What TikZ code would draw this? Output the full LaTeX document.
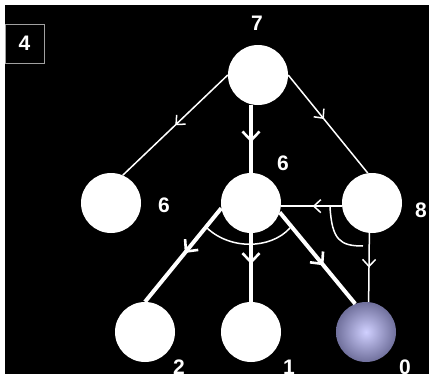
\documentclass[tikz,border=0pt]{standalone}
\usepackage{fontspec}
\setmainfont{Liberation Sans}
\usetikzlibrary{arrows.meta, decorations.markings}
\tikzstyle{ball} = [circle, fill=white, minimum size=60pt, inner sep=0pt]
\tikzstyle{solved} = [circle, minimum size=60pt, inner sep=0pt, inner color={rgb,255:red,208;green,208;blue,255}, outer color={rgb,255:red,112;green,112;blue,156}]
\tikzstyle{num} = [text=white, font=\fontsize{21}{24}\selectfont\bfseries, inner sep=0pt]
\tikzstyle{stagebox} = [draw={rgb,255:red,160;green,160;blue,160}, line width=1pt, minimum width=39pt, minimum height=39pt, inner sep=0pt]
\tikzstyle{thinarc} = [draw=white, line width=1.5pt, postaction={decorate}, decoration={markings, mark=at position #1 with {\arrow{Straight Barb[length=7pt, width=13pt]}}}]
\tikzstyle{thickarc} = [draw=white, line width=4pt, postaction={decorate}, decoration={markings, mark=at position #1 with {\arrow{Straight Barb[length=9pt, width=17pt, line width=2.6pt]}}}]

\begin{document}
\begin{tikzpicture}[x=1pt, y=-1pt, node distance=128pt]
	% frame
	\fill[white] (0,0) rectangle (429,383);
	\fill[black] (5,5) rectangle (429,374);
	\useasboundingbox (0,0) rectangle (429,383);

	\node (stage) [stagebox, num] at (24.5,43.5) {4};

	\node (top) [ball] at (258,75) {};
	\node (mid) [ball, below of=top, xshift=-7pt] {};
	\node (left) [ball, left of=mid, xshift=-12pt] {};
	\node (right) [ball, right of=mid, xshift=-7pt] {};
	\node (leaf2) [ball, below of=mid, xshift=-106pt, yshift=-1pt] {};
	\node (leaf1) [ball, below of=mid, yshift=-1pt] {};
	\node (leaf0) [solved, below of=mid, xshift=115pt, yshift=-1pt] {};

	\draw [thinarc=0.5] (top.180) -- (left.67);
	\draw [thinarc=0.45] (top.0) -- (right.98);
	\draw [thickarc=0.55] (mid.north |- top.south) -- (mid.north);

	\draw [thinarc=0.48] (right.186) -- (mid.-6);
	\draw [thinarc=0.5] (right.265) -- (leaf0.85);

	\draw [thickarc=0.48] (mid.190) -- (leaf2.north);
	\draw [thickarc=0.45] (mid.south) -- (leaf1.north);
	\draw [thickarc=0.58] (mid.-18) -- (leaf0.111);

	% and-links
	\draw [white, line width=1.5pt] (205,226) .. controls (228,250) and (270,250) .. (290,228);
	\draw [white, line width=1.5pt] (330,207) .. controls (332,240) and (340,246) .. (363,246);

	\node (ntop) [num] at (257,23) {7};
	\node (nleft) [num] at (164,205) {6};
	\node (nmid) [num] at (283,163) {6};
	\node (nright) [num] at (421,210) {8};
	\node (nleaf2) [num] at (179,367) {2};
	\node (nleaf1) [num] at (289,367) {1};
	\node (nleaf0) [num] at (405,367) {0};
\end{tikzpicture}
\end{document}
